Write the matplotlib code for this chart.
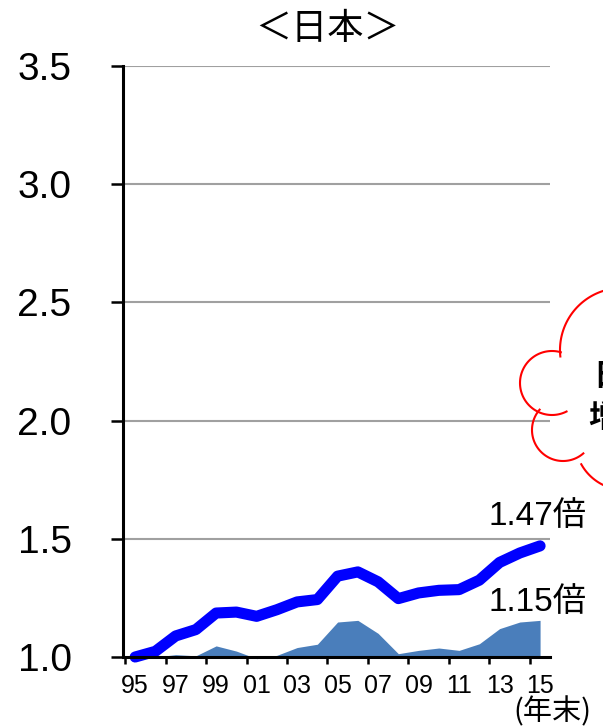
import matplotlib.pyplot as plt
import numpy as np

plt.rcParams['font.family'] = ['Liberation Sans', 'Noto Sans CJK JP', 'DejaVu Sans']

years = ['95', '96', '97', '98', '99', '00', '01', '02', '03', '04', '05',
         '06', '07', '08', '09', '10', '11', '12', '13', '14', '15']
line_vals = [1.00, 1.024, 1.089, 1.116, 1.186, 1.19, 1.172, 1.20, 1.233, 1.243, 1.342,
             1.36, 1.318, 1.247, 1.271, 1.282, 1.285, 1.325, 1.40, 1.44, 1.47]
area_vals = [1.00, 1.00, 1.01, 1.005, 1.047, 1.025, 0.993, 1.007, 1.04, 1.054, 1.148,
             1.155, 1.10, 1.014, 1.028, 1.038, 1.028, 1.056, 1.12, 1.148, 1.155]
yticks = [1.0, 1.5, 2.0, 2.5, 3.0, 3.5]

W, H = 603, 728
fig = plt.figure(figsize=(W / 100, H / 100), dpi=100)
ax = fig.add_axes([123 / W, 1 - 657 / H, (550 - 123) / W, (657 - 66) / H])

x = np.arange(len(years))
ax.fill_between(x, 1.0, area_vals, color='#4a7ebb', lw=0, zorder=2, clip_on=False)
ax.plot(x, line_vals, color='#0000ff', lw=8, solid_capstyle='round',
        solid_joinstyle='round', zorder=3, clip_on=False)

ax.set_ylim(1.0, 3.5)
ax.set_xlim(-0.6, 20.49)
ax.set_yticks(yticks)
ax.set_yticklabels(['%.1f' % v for v in yticks], fontsize=28)
for v in yticks[1:]:
    ax.axhline(v, color='#a0a0a0', lw=1.5, zorder=1)

ax.set_xticks(x[::2])
ax.set_xticklabels(years[::2], fontsize=18)
ax.set_xticks(x[::2] - 0.5, minor=True)
ax.tick_params(axis='x', which='major', length=0, pad=12)
ax.tick_params(axis='x', which='minor', length=5, width=1.8, direction='out')
ax.tick_params(axis='y', length=9, width=1.8, direction='out', pad=28)

for s in ['top', 'right']:
    ax.spines[s].set_visible(False)
for s in ['left', 'bottom']:
    ax.spines[s].set_linewidth(2.2)
    ax.spines[s].set_zorder(4)

fig.text(587 / W, 1 - 517 / H, '1.47倍', fontsize=24, ha='right', va='center')
fig.text(587 / W, 1 - 603 / H, '1.15倍', fontsize=24, ha='right', va='center')

fig.text(591 / W, 1 - 712 / H, '(年末)', fontsize=21, ha='right', va='center',
         family=['Noto Sans CJK JP'])
fig.text(327 / W, 1 - 29 / H, '＜日本＞', fontsize=26, ha='center', va='center',
         family=['Noto Sans CJK JP'])

# cloud callout cut off at the right edge
ov = fig.add_axes([0, 0, 1, 1], facecolor='none')
ov.set_xlim(0, W)
ov.set_ylim(H, 0)
ov.axis('off')
arcs = [((622, 350), 62, 174, 262),
        ((552, 383), 32, 63, 286),
        ((563, 430), 31, 49, 221),
        ((625, 440), 50, 85, 151)]
for (cx, cy), r, t1, t2 in arcs:
    t = np.radians(np.linspace(t1, t2, 80))
    ov.plot(cx + r * np.cos(t), cy + r * np.sin(t), color='red', lw=1.5)
ov.text(593, 376, '日', fontsize=22, fontweight='bold', ha='left', va='center',
        family=['Noto Sans CJK JP'])
ov.text(588, 418, '増', fontsize=22, fontweight='bold', ha='left', va='center',
        family=['Noto Sans CJK JP'])

fig.savefig('out.png', dpi=100)
